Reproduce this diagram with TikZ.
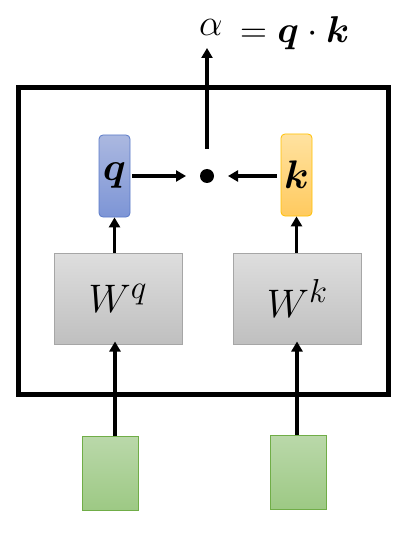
\documentclass[tikz,border=0pt]{standalone}
\usepackage{amsmath,bm}
\usetikzlibrary{arrows.meta}
\newcommand{\bigtxt}[1]{\scalebox{1.6}{\Huge #1}}
\newcommand{\lbltxt}[1]{\scalebox{1.5}{\Huge #1}}
\begin{document}
\begin{tikzpicture}[x=1pt,y=-1pt,
  arr/.style={line width=3.2pt,-{Triangle[width=11pt,length=10pt]}},
  vec/.style={rounded corners=4pt,line width=0.8pt,minimum width=31pt,minimum height=82pt,inner sep=0pt},
  wbox/.style={draw=black!35,line width=1pt,top color=black!13,bottom color=black!25,minimum width=128pt,minimum height=91pt,inner sep=0pt},
  gbox/.style={line width=1pt,draw={rgb,255:red,112;green,173;blue,71},top color={rgb,255:red,186;green,216;blue,170},bottom color={rgb,255:red,157;green,201;blue,132},minimum width=56pt,minimum height=74pt,inner sep=0pt}]
\useasboundingbox (0,0) rectangle (411,537);
\node[draw,line width=5pt,minimum width=370pt,minimum height=306pt,inner sep=0pt] (outer) at (203,241) {};
\node[vec,draw={rgb,255:red,90;green,122;blue,200},top color={rgb,255:red,171;green,184;blue,224},bottom color={rgb,255:red,125;green,149;blue,214}] (q) at (114.5,176) {\bigtxt{$\bm{q}$}};
\node[vec,draw={rgb,255:red,255;green,192;blue,0},top color={rgb,255:red,255;green,226;blue,160},bottom color={rgb,255:red,255;green,202;blue,95}] (k) at (296.5,175) {\bigtxt{$\bm{k}$}};
\node[circle,fill=black,minimum size=14pt,inner sep=0pt] (dot) at (207,176) {};
\node[wbox] (wq) at (118,298.5) {\bigtxt{$W^{q}$}};
\node[wbox] (wk) at (297.5,298.5) {\bigtxt{$W^{k}$}};
\node[gbox] (xq) at (110,473) {};
\node[gbox] (xk) at (298,472) {};
\node[anchor=base west,inner sep=0pt] (alpha) at (199,36) {\lbltxt{$\alpha$}};
\node[anchor=base west,inner sep=0pt] (eq) at (240,43) {\lbltxt{$=\bm{q}\cdot\bm{k}$}};
\coordinate (top) at (207,48);
\coordinate (dtop) at (207,149);
\draw[arr] (dtop) -- (top);
\draw[arr,shorten <=2pt,shorten >=-1pt] (q.east |- dot) -- ([xshift=-22pt]dot.center);
\draw[arr,shorten <=4pt,shorten >=-1pt] (k.west |- dot) -- ([xshift=22pt]dot.center);
\draw[arr] (wq.north -| q.south) -- (q.south);
\draw[arr] (wk.north -| k.south) -- (k.south);
\draw[arr,shorten >=-3pt] (xq.north -| 115,0) -- (wq.south -| 115,0);
\draw[arr,shorten >=-3pt] (xk.north -| 297,0) -- (wk.south -| 297,0);
\end{tikzpicture}
\end{document}
